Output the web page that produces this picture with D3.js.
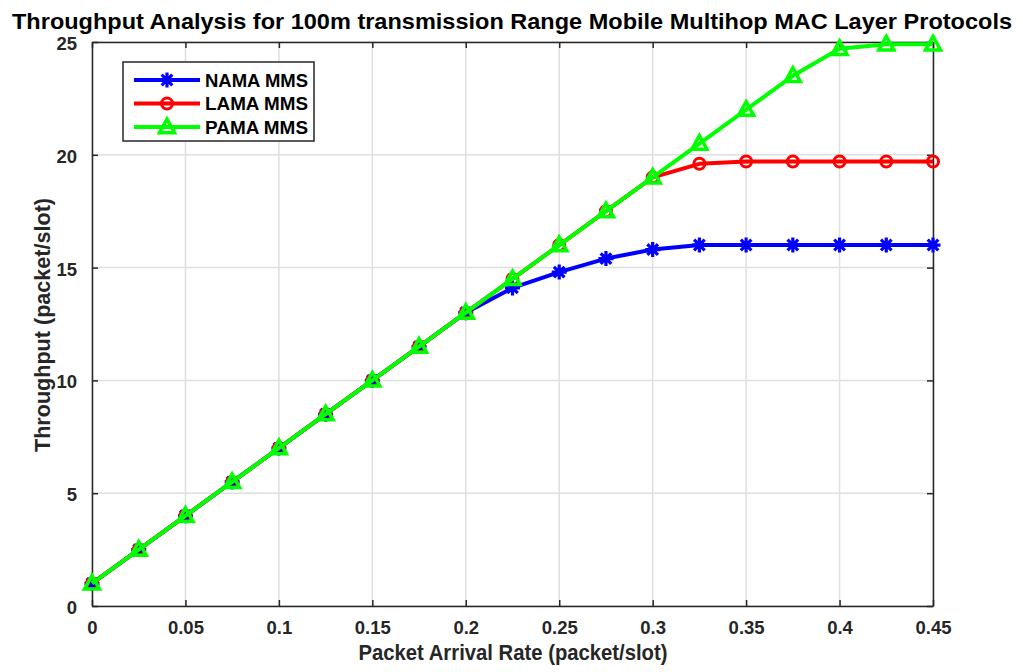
<!DOCTYPE html>
<html><head><meta charset="utf-8">
<script src="https://cdn.jsdelivr.net/npm/d3@7"></script>
<style>body{margin:0;background:#fff;} svg{display:block;font-family:"Liberation Sans",Arial,sans-serif;}</style>
</head><body>
<svg id="c" width="1023" height="672"></svg>
<script>
const xValues = [0,0.025,0.05,0.075,0.1,0.125,0.15,0.175,0.2,0.225,0.25,0.275,0.3,0.325,0.35,0.375,0.4,0.425,0.45];
const namaValues = [1,2.5,4,5.5,7,8.5,10,11.5,13,14.1,14.8,15.4,15.8,16,16,16,16,16,16];
const lamaValues = [1,2.5,4,5.5,7,8.5,10,11.5,13,14.5,16,17.5,19,19.6,19.7,19.7,19.7,19.7,19.7];
const pamaValues = [1,2.5,4,5.5,7,8.5,10,11.5,13,14.5,16,17.5,19,20.5,22,23.5,24.7,24.9,24.9];
const seriesNames = ["NAMA MMS","LAMA MMS","PAMA MMS"];
const xTicks = [0,0.05,0.1,0.15,0.2,0.25,0.3,0.35,0.4,0.45];
const yTicks = [0,5,10,15,20,25];
const titleText = "Throughput Analysis for 100m transmission Range Mobile Multihop MAC Layer Protocols";
const xLabel = "Packet Arrival Rate (packet/slot)";
const yLabel = "Throughput (packet/slot)";

const svg = d3.select("#c");
const L=92, R=933, T=42, B=606;
const x = d3.scaleLinear().domain([0,0.45]).range([L,R]);
const y = d3.scaleLinear().domain([0,25]).range([B,T]);
const axisColor="#262626";
const FF = "'Liberation Sans', Arial, sans-serif";

// grid
const g = svg.append("g");
g.selectAll(".gx").data(xTicks).join("line").attr("x1",d=>x(d)).attr("x2",d=>x(d)).attr("y1",T).attr("y2",B).attr("stroke","#dfdfdf").attr("stroke-width",1.5);
g.selectAll(".gy").data(yTicks).join("line").attr("y1",d=>y(d)).attr("y2",d=>y(d)).attr("x1",L).attr("x2",R).attr("stroke","#dfdfdf").attr("stroke-width",1.5);

// axes
const fontTick = "bold 18.5px " + FF;
const xAxis = d3.axisBottom(x).tickValues(xTicks).tickFormat(d=>d3.format("~g")(d)).tickSizeInner(-6).tickSizeOuter(0).tickPadding(15);
const yAxis = d3.axisLeft(y).tickValues(yTicks).tickFormat(d3.format("d")).tickSizeInner(-6).tickSizeOuter(0).tickPadding(15);
const xa = svg.append("g").attr("transform",`translate(0,${B})`).call(xAxis);
const ya = svg.append("g").attr("transform",`translate(${L},0)`).call(yAxis);
const xt = svg.append("g").attr("transform",`translate(0,${T})`).call(d3.axisTop(x).tickValues(xTicks).tickFormat("").tickSizeInner(-6).tickSizeOuter(0));
const yr = svg.append("g").attr("transform",`translate(${R},0)`).call(d3.axisRight(y).tickValues(yTicks).tickFormat("").tickSizeInner(-6).tickSizeOuter(0));
[xa,ya,xt,yr].forEach(a=>{
  a.select(".domain").attr("stroke",axisColor).attr("stroke-width",1.5);
  a.selectAll(".tick line").attr("stroke",axisColor).attr("stroke-width",1.5);
  a.selectAll(".tick text").attr("fill",axisColor).style("font",fontTick);
});
ya.selectAll(".tick text").attr("dy","0.4em");

// series
const series = [
  {name:seriesNames[0], values:namaValues, color:"#0000ff", marker:"star"},
  {name:seriesNames[1], values:lamaValues, color:"#ff0000", marker:"circle"},
  {name:seriesNames[2], values:pamaValues, color:"#00ff00", marker:"tri"}
];
function drawMarker(sel, type, color){
  if(type==="star"){
    const r=7.5;
    let p="";
    for(let k=0;k<4;k++){const a=k*Math.PI/4; p+=`M${-r*Math.cos(a)},${-r*Math.sin(a)}L${r*Math.cos(a)},${r*Math.sin(a)}`;}
    sel.append("path").attr("d",p).attr("stroke",color).attr("stroke-width",3.2).attr("fill","none");
  } else if(type==="circle"){
    sel.append("circle").attr("r",5.5).attr("fill","none").attr("stroke",color).attr("stroke-width",3);
  } else {
    const s=7.5;
    sel.append("path").attr("d",`M0,${-s*1.05}L${s},${s*0.75}L${-s},${s*0.75}Z`).attr("fill","none").attr("stroke",color).attr("stroke-width",3.5).attr("stroke-linejoin","miter");
  }
}
const line = d3.line().x((d,i)=>x(xValues[i])).y(d=>y(d));
series.forEach(s=>{
  const sg = svg.append("g");
  sg.append("path").datum(s.values).attr("d",line).attr("fill","none").attr("stroke",s.color).attr("stroke-width",4).attr("stroke-linejoin","round");
  s.values.forEach((v,i)=>{
    const m = sg.append("g").attr("transform",`translate(${x(xValues[i])},${y(v)})`);
    drawMarker(m,s.marker,s.color);
  });
});

// legend
const lg = svg.append("g");
lg.append("rect").attr("x",123).attr("y",62).attr("width",191).attr("height",79).attr("fill","#fff").attr("stroke",axisColor).attr("stroke-width",1.5);
series.forEach((s,i)=>{
  const yy = 80 + i*23.5;
  lg.append("line").attr("x1",134).attr("x2",200).attr("y1",yy).attr("y2",yy).attr("stroke",s.color).attr("stroke-width",4);
  const m = lg.append("g").attr("transform",`translate(167,${yy})`);
  drawMarker(m,s.marker,s.color);
  lg.append("text").attr("x",205).attr("y",yy).attr("dy","0.36em").text(s.name).style("font","bold 19px "+FF).attr("fill","#000")
    .attr("textLength",103).attr("lengthAdjust","spacingAndGlyphs");
});

// title and labels
svg.append("text").attr("x",512).attr("y",29).attr("text-anchor","middle").text(titleText)
  .style("font","bold 22.5px "+FF).attr("fill","#000")
  .attr("textLength",1000).attr("lengthAdjust","spacingAndGlyphs");
svg.append("text").attr("x",(L+R)/2+0.5).attr("y",660).attr("text-anchor","middle").text(xLabel)
  .style("font","bold 22px "+FF).attr("fill",axisColor)
  .attr("textLength",309).attr("lengthAdjust","spacingAndGlyphs");
svg.append("text").attr("transform",`translate(50,${(T+B)/2+1}) rotate(-90)`).attr("text-anchor","middle").text(yLabel)
  .style("font","bold 22px "+FF).attr("fill",axisColor)
  .attr("textLength",254).attr("lengthAdjust","spacingAndGlyphs");
</script>
</body></html>
